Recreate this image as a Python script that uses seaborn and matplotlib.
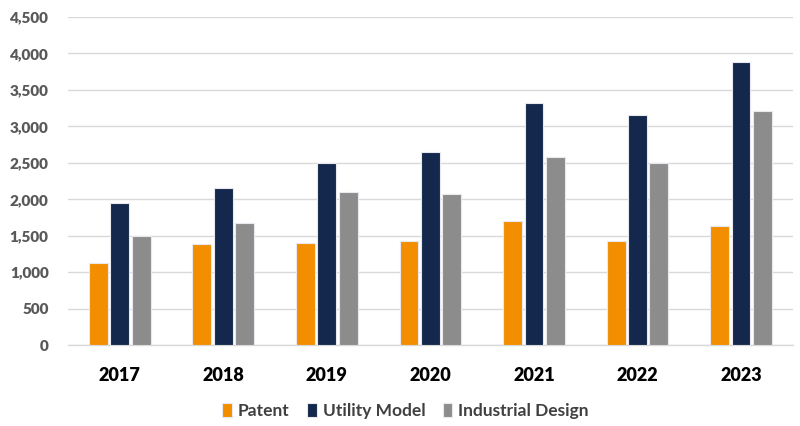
import matplotlib

matplotlib.use("Agg")

import matplotlib.pyplot as plt
import pandas as pd
import seaborn as sns
from matplotlib.ticker import FuncFormatter, MultipleLocator

YEARS = ["2017", "2018", "2019", "2020", "2021", "2022", "2023"]
SERIES = ["Patent", "Utility Model", "Industrial Design"]
PATENT = [1125, 1380, 1395, 1430, 1705, 1430, 1630]
UTILITY_MODEL = [1950, 2160, 2500, 2650, 3325, 3155, 3890]
INDUSTRIAL_DESIGN = [1500, 1675, 2100, 2070, 2575, 2500, 3205]
COLORS = ["#F28E00", "#13284C", "#8C8C8C"]

FONT = ["Lato", "DejaVu Sans"]


def build_frame() -> pd.DataFrame:
    rows = []
    for name, values in zip(SERIES, [PATENT, UTILITY_MODEL, INDUSTRIAL_DESIGN]):
        for year, value in zip(YEARS, values):
            rows.append({"year": year, "series": name, "count": value})
    return pd.DataFrame(rows)


def main() -> None:
    sns.set_style("white")
    plt.rcParams["font.family"] = FONT

    df = build_frame()
    fig = plt.figure(figsize=(8.0, 4.26), dpi=100)
    ax = fig.add_axes([0.085, 0.19, 0.906, 0.77])

    sns.barplot(
        data=df,
        x="year",
        y="count",
        hue="series",
        order=YEARS,
        hue_order=SERIES,
        palette=COLORS,
        width=0.62,
        gap=0.12,
        edgecolor="#E8E8EE",
        linewidth=0.8,
        saturation=1,
        ax=ax,
        zorder=3,
    )

    ax.set_ylim(0, 4500)
    ax.set_xlim(-0.5, 6.5)
    ax.yaxis.set_major_locator(MultipleLocator(500))
    ax.yaxis.set_major_formatter(FuncFormatter(lambda v, _: f"{int(v):,}"))
    ax.grid(axis="y", color="#D9D9D9", linewidth=1.0, zorder=0)
    ax.set_axisbelow(True)
    for side in ["top", "right", "left"]:
        ax.spines[side].set_visible(False)
    ax.spines["bottom"].set_color("#D9D9D9")
    ax.spines["bottom"].set_linewidth(1.0)

    ax.set_xlabel("")
    ax.set_ylabel("")
    ax.tick_params(axis="both", length=0)
    ax.tick_params(axis="y", labelsize=11, labelcolor="#595959", pad=14)
    ax.tick_params(axis="x", labelsize=13, labelcolor="#000000", pad=16)
    for label in ax.get_yticklabels() + ax.get_xticklabels():
        label.set_fontweight("heavy")

    ax.legend_.remove()
    handles, labels = ax.get_legend_handles_labels()
    legend = fig.legend(
        handles,
        labels,
        loc="center",
        bbox_to_anchor=(0.507, 0.036),
        ncol=3,
        frameon=False,
        fontsize=12.5,
        handlelength=0.55,
        handleheight=0.85,
        handletextpad=0.35,
        columnspacing=1.0,
    )
    for text in legend.get_texts():
        text.set_color("#404040")
        text.set_fontweight("bold")

    fig.savefig("out.png", dpi=100)
    plt.close(fig)


if __name__ == "__main__":
    main()
